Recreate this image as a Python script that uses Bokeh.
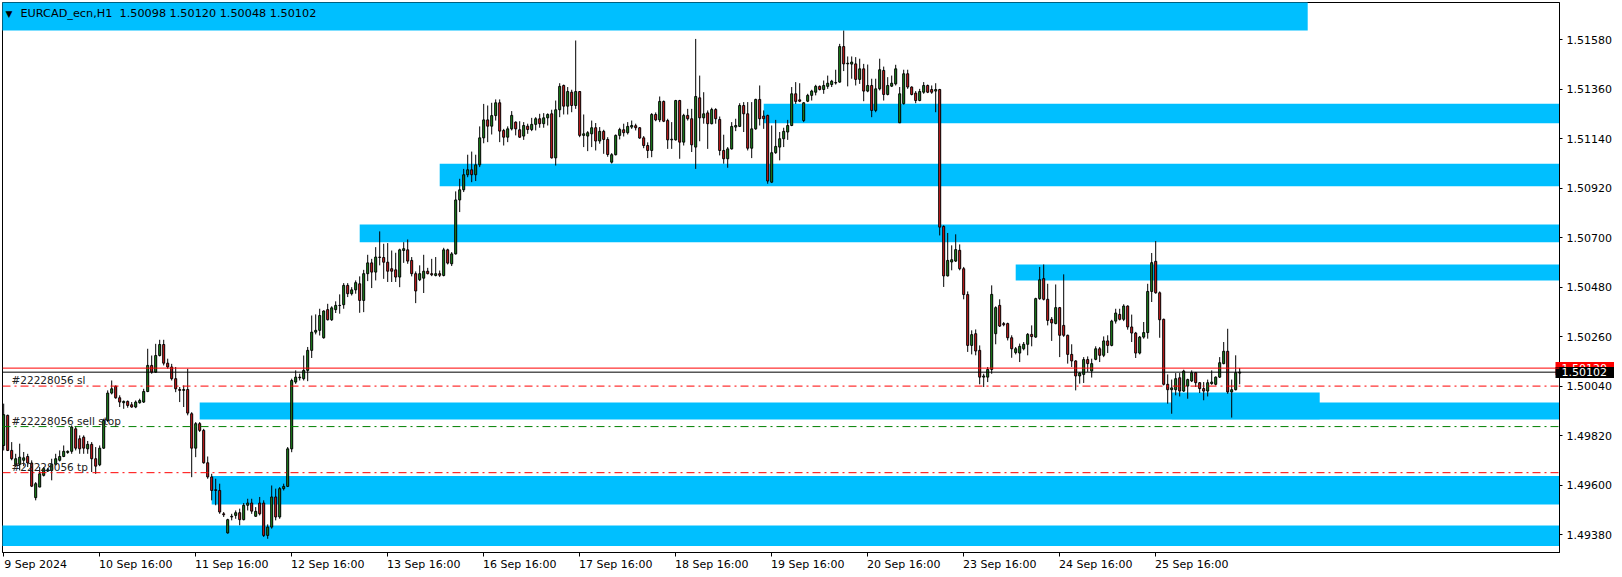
from bokeh.plotting import figure
from bokeh.models import ColumnDataSource, Span, Label, FixedTicker, PrintfTickFormatter, Range1d, LinearAxis
from bokeh.embed import file_html
from bokeh.resources import INLINE

symbol = "EURCAD_ecn,H1"

opens = [
1.49776, 1.49910, 1.49754, 1.49690, 1.49692, 1.49710, 1.49727, 1.49698, 1.49544, 1.49591,
1.49643, 1.49662, 1.49665, 1.49692, 1.49710, 1.49727, 1.49745, 1.49750, 1.49850, 1.49806,
1.49813, 1.49761, 1.49781, 1.49717, 1.49690, 1.49764, 1.49887, 1.50009, 1.50039, 1.49988,
1.49966, 1.49972, 1.49957, 1.49947, 1.49966, 1.49969, 1.50016, 1.50132, 1.50102, 1.50176,
1.50225, 1.50142, 1.50125, 1.50073, 1.50025, 1.50021, 1.50025, 1.49917, 1.49764, 1.49873,
1.49843, 1.49699, 1.49636, 1.49579, 1.49576, 1.49472, 1.49387, 1.49458, 1.49465, 1.49477,
1.49446, 1.49510, 1.49520, 1.49461, 1.49520, 1.49520, 1.49376, 1.49413, 1.49547, 1.49458,
1.49584, 1.49594, 1.49761, 1.50058, 1.50080, 1.50073, 1.50110, 1.50199, 1.50280, 1.50288,
1.50255, 1.50380, 1.50335, 1.50380, 1.50398, 1.50402, 1.50488, 1.50451, 1.50468, 1.50495,
1.50421, 1.50540, 1.50588, 1.50547, 1.50614, 1.50612, 1.50591, 1.50562, 1.50557, 1.50525,
1.50643, 1.50646, 1.50599, 1.50540, 1.50513, 1.50520, 1.50551, 1.50540, 1.50532, 1.50540,
1.50532, 1.50646, 1.50584, 1.50628, 1.50868, 1.50913, 1.50980, 1.51002, 1.50980, 1.51024,
1.51144, 1.51224, 1.51196, 1.51243, 1.51300, 1.51177, 1.51147, 1.51184, 1.51214, 1.51180,
1.51152, 1.51196, 1.51181, 1.51204, 1.51229, 1.51207, 1.51233, 1.51251, 1.51055, 1.51269,
1.51377, 1.51285, 1.51347, 1.51288, 1.51350, 1.51155, 1.51152, 1.51162, 1.51189, 1.51130,
1.51173, 1.51137, 1.51036, 1.51069, 1.51155, 1.51180, 1.51167, 1.51192, 1.51198, 1.51189,
1.51144, 1.51110, 1.51088, 1.51248, 1.51224, 1.51306, 1.51221, 1.51135, 1.51135, 1.51310,
1.51125, 1.51244, 1.51229, 1.51103, 1.51322, 1.51233, 1.51255, 1.51207, 1.51270, 1.51226,
1.51088, 1.51051, 1.51095, 1.51192, 1.51195, 1.51288, 1.51251, 1.51098, 1.51184, 1.51315,
1.51241, 1.51244, 1.50947, 1.51078, 1.51103, 1.51140, 1.51170, 1.51199, 1.51340, 1.51313,
1.51221, 1.51307, 1.51333, 1.51347, 1.51373, 1.51359, 1.51373, 1.51381, 1.51390, 1.51392,
1.51550, 1.51473, 1.51472, 1.51473, 1.51404, 1.51451, 1.51352, 1.51377, 1.51266, 1.51362,
1.51444, 1.51337, 1.51374, 1.51384, 1.51211, 1.51296, 1.51429, 1.51370, 1.51343, 1.51310,
1.51347, 1.51377, 1.51359, 1.51352, 1.51359, 1.50750, 1.50530, 1.50592, 1.50596, 1.50644,
1.50562, 1.50447, 1.50221, 1.50273, 1.50199, 1.50080, 1.50080, 1.50114, 1.50273, 1.50399,
1.50318, 1.50318, 1.50255, 1.50189, 1.50187, 1.50206, 1.50226, 1.50270, 1.50258, 1.50429,
1.50518, 1.50426, 1.50337, 1.50318, 1.50389, 1.50310, 1.50266, 1.50181, 1.50152, 1.50085,
1.50092, 1.50158, 1.50107, 1.50159, 1.50206, 1.50177, 1.50241, 1.50221, 1.50329, 1.50359,
1.50337, 1.50396, 1.50303, 1.50276, 1.50187, 1.50258, 1.50278, 1.50461, 1.50595, 1.50455,
1.50337, 1.50048, 1.50024, 1.50024, 1.50077, 1.50018, 1.50040, 1.50063, 1.50100, 1.50055,
1.50029, 1.50018, 1.50051, 1.50048, 1.50080, 1.50140, 1.50195, 1.50014, 1.50024, 1.50098,
]

highs = [
1.49962, 1.49913, 1.49791, 1.49739, 1.49784, 1.49747, 1.49739, 1.49710, 1.49613, 1.49680,
1.49680, 1.49676, 1.49717, 1.49739, 1.49754, 1.49776, 1.49754, 1.49865, 1.49861, 1.49821,
1.49821, 1.49796, 1.49791, 1.49769, 1.49776, 1.49895, 1.50021, 1.50065, 1.50043, 1.49999,
1.49976, 1.49976, 1.49969, 1.49976, 1.49984, 1.50028, 1.50206, 1.50176, 1.50228, 1.50246,
1.50246, 1.50162, 1.50139, 1.50125, 1.50036, 1.50043, 1.50117, 1.49924, 1.49880, 1.49880,
1.49850, 1.49727, 1.49650, 1.49628, 1.49606, 1.49480, 1.49450, 1.49472, 1.49487, 1.49495,
1.49520, 1.49539, 1.49539, 1.49502, 1.49547, 1.49532, 1.49425, 1.49598, 1.49584, 1.49591,
1.49606, 1.49769, 1.50073, 1.50110, 1.50095, 1.50176, 1.50214, 1.50354, 1.50359, 1.50384,
1.50377, 1.50406, 1.50395, 1.50417, 1.50448, 1.50498, 1.50498, 1.50480, 1.50510, 1.50528,
1.50557, 1.50624, 1.50606, 1.50658, 1.50728, 1.50673, 1.50676, 1.50643, 1.50633, 1.50651,
1.50680, 1.50692, 1.50614, 1.50550, 1.50577, 1.50624, 1.50566, 1.50606, 1.50614, 1.50554,
1.50655, 1.50651, 1.50636, 1.50906, 1.50962, 1.51006, 1.51069, 1.51083, 1.51069, 1.51195,
1.51295, 1.51288, 1.51300, 1.51315, 1.51315, 1.51184, 1.51195, 1.51263, 1.51217, 1.51218,
1.51214, 1.51207, 1.51233, 1.51236, 1.51251, 1.51254, 1.51253, 1.51269, 1.51310, 1.51387,
1.51381, 1.51370, 1.51358, 1.51577, 1.51352, 1.51248, 1.51174, 1.51221, 1.51210, 1.51192,
1.51180, 1.51147, 1.51076, 1.51159, 1.51189, 1.51207, 1.51214, 1.51221, 1.51207, 1.51192,
1.51152, 1.51124, 1.51254, 1.51257, 1.51328, 1.51310, 1.51229, 1.51214, 1.51313, 1.51313,
1.51251, 1.51273, 1.51273, 1.51584, 1.51421, 1.51347, 1.51266, 1.51278, 1.51276, 1.51239,
1.51158, 1.51103, 1.51214, 1.51229, 1.51298, 1.51303, 1.51303, 1.51303, 1.51318, 1.51377,
1.51266, 1.51247, 1.51199, 1.51224, 1.51170, 1.51189, 1.51224, 1.51370, 1.51392, 1.51387,
1.51303, 1.51340, 1.51358, 1.51380, 1.51377, 1.51399, 1.51421, 1.51402, 1.51447, 1.51562,
1.51621, 1.51506, 1.51506, 1.51503, 1.51496, 1.51473, 1.51470, 1.51407, 1.51407, 1.51496,
1.51461, 1.51414, 1.51421, 1.51469, 1.51370, 1.51447, 1.51447, 1.51373, 1.51352, 1.51362,
1.51392, 1.51381, 1.51377, 1.51387, 1.51362, 1.50755, 1.50721, 1.50666, 1.50715, 1.50670,
1.50570, 1.50461, 1.50288, 1.50292, 1.50221, 1.50095, 1.50125, 1.50488, 1.50395, 1.50426,
1.50325, 1.50322, 1.50266, 1.50214, 1.50229, 1.50236, 1.50276, 1.50310, 1.50433, 1.50570,
1.50581, 1.50495, 1.50347, 1.50492, 1.50392, 1.50537, 1.50269, 1.50226, 1.50155, 1.50103,
1.50169, 1.50172, 1.50162, 1.50217, 1.50214, 1.50261, 1.50266, 1.50335, 1.50384, 1.50384,
1.50404, 1.50399, 1.50358, 1.50281, 1.50263, 1.50325, 1.50495, 1.50632, 1.50685, 1.50461,
1.50340, 1.50092, 1.50069, 1.50098, 1.50098, 1.50113, 1.50073, 1.50110, 1.50103, 1.50058,
1.50058, 1.50069, 1.50110, 1.50083, 1.50169, 1.50236, 1.50295, 1.50069, 1.50177, 1.50120,
]

lows = [
1.49754, 1.49751, 1.49710, 1.49680, 1.49665, 1.49684, 1.49680, 1.49591, 1.49532, 1.49591,
1.49638, 1.49658, 1.49621, 1.49687, 1.49705, 1.49724, 1.49739, 1.49739, 1.49754, 1.49739,
1.49739, 1.49739, 1.49658, 1.49650, 1.49684, 1.49761, 1.49880, 1.50003, 1.49984, 1.49947,
1.49939, 1.49944, 1.49944, 1.49942, 1.49962, 1.49965, 1.50013, 1.50095, 1.50099, 1.50172,
1.50132, 1.50117, 1.50065, 1.50013, 1.49969, 1.49947, 1.49910, 1.49635, 1.49724, 1.49836,
1.49695, 1.49628, 1.49532, 1.49510, 1.49472, 1.49458, 1.49384, 1.49443, 1.49450, 1.49421,
1.49443, 1.49487, 1.49472, 1.49458, 1.49465, 1.49369, 1.49361, 1.49406, 1.49443, 1.49450,
1.49576, 1.49591, 1.49746, 1.50050, 1.50065, 1.50065, 1.50062, 1.50165, 1.50270, 1.50265,
1.50251, 1.50332, 1.50330, 1.50365, 1.50362, 1.50384, 1.50436, 1.50443, 1.50451, 1.50366,
1.50369, 1.50507, 1.50476, 1.50510, 1.50577, 1.50517, 1.50503, 1.50503, 1.50503, 1.50480,
1.50588, 1.50584, 1.50528, 1.50409, 1.50507, 1.50454, 1.50537, 1.50529, 1.50528, 1.50525,
1.50528, 1.50581, 1.50574, 1.50625, 1.50814, 1.50903, 1.50969, 1.50947, 1.50952, 1.51014,
1.51120, 1.51125, 1.51159, 1.51221, 1.51125, 1.51110, 1.51125, 1.51177, 1.51155, 1.51144,
1.51135, 1.51162, 1.51174, 1.51177, 1.51189, 1.51189, 1.51199, 1.51052, 1.51021, 1.51236,
1.51248, 1.51248, 1.51258, 1.51273, 1.51147, 1.51103, 1.51085, 1.51103, 1.51088, 1.51118,
1.51073, 1.51060, 1.51030, 1.51066, 1.51137, 1.51150, 1.51159, 1.51184, 1.51177, 1.51140,
1.51098, 1.51054, 1.51058, 1.51218, 1.51214, 1.51214, 1.51095, 1.51095, 1.51132, 1.51051,
1.51110, 1.51221, 1.51081, 1.51006, 1.51129, 1.51207, 1.51095, 1.51204, 1.51207, 1.51066,
1.51029, 1.51011, 1.51092, 1.51174, 1.51192, 1.51170, 1.51088, 1.51054, 1.51180, 1.51199,
1.51184, 1.50940, 1.50943, 1.51073, 1.51044, 1.51103, 1.51135, 1.51196, 1.51295, 1.51303,
1.51214, 1.51303, 1.51310, 1.51333, 1.51355, 1.51340, 1.51362, 1.51370, 1.51381, 1.51389,
1.51441, 1.51373, 1.51407, 1.51377, 1.51384, 1.51307, 1.51347, 1.51236, 1.51258, 1.51355,
1.51310, 1.51333, 1.51370, 1.51377, 1.51211, 1.51292, 1.51362, 1.51333, 1.51298, 1.51307,
1.51340, 1.51343, 1.51340, 1.51258, 1.50710, 1.50481, 1.50528, 1.50555, 1.50592, 1.50555,
1.50426, 1.50192, 1.50181, 1.50177, 1.50048, 1.50036, 1.50058, 1.50095, 1.50226, 1.50303,
1.50306, 1.50243, 1.50166, 1.50181, 1.50147, 1.50199, 1.50177, 1.50217, 1.50255, 1.50424,
1.50421, 1.50310, 1.50241, 1.50315, 1.50169, 1.50259, 1.50140, 1.50125, 1.50021, 1.50051,
1.50054, 1.50103, 1.50078, 1.50155, 1.50147, 1.50169, 1.50187, 1.50217, 1.50318, 1.50332,
1.50329, 1.50291, 1.50236, 1.50165, 1.50181, 1.50251, 1.50251, 1.50414, 1.50451, 1.50255,
1.50043, 1.49962, 1.49917, 1.49999, 1.49994, 1.50014, 1.49984, 1.50058, 1.50036, 1.50009,
1.49977, 1.49994, 1.50046, 1.50043, 1.50076, 1.50137, 1.50006, 1.49900, 1.50021, 1.50048,
]

closes = [
1.49913, 1.49754, 1.49717, 1.49717, 1.49724, 1.49721, 1.49698, 1.49595, 1.49606, 1.49650,
1.49673, 1.49668, 1.49692, 1.49717, 1.49727, 1.49750, 1.49750, 1.49858, 1.49764, 1.49761,
1.49764, 1.49781, 1.49717, 1.49684, 1.49764, 1.49887, 1.50009, 1.50028, 1.49988, 1.49969,
1.49972, 1.49954, 1.49947, 1.49969, 1.49976, 1.50016, 1.50132, 1.50102, 1.50176, 1.50225,
1.50142, 1.50125, 1.50073, 1.50028, 1.50021, 1.50025, 1.49920, 1.49764, 1.49873, 1.49843,
1.49699, 1.49636, 1.49576, 1.49576, 1.49480, 1.49468, 1.49446, 1.49461, 1.49477, 1.49446,
1.49510, 1.49520, 1.49484, 1.49483, 1.49472, 1.49376, 1.49413, 1.49547, 1.49458, 1.49584,
1.49594, 1.49761, 1.50065, 1.50080, 1.50077, 1.50110, 1.50199, 1.50280, 1.50288, 1.50354,
1.50374, 1.50335, 1.50388, 1.50399, 1.50399, 1.50488, 1.50451, 1.50468, 1.50500, 1.50421,
1.50540, 1.50588, 1.50547, 1.50614, 1.50612, 1.50591, 1.50551, 1.50551, 1.50525, 1.50646,
1.50651, 1.50596, 1.50540, 1.50463, 1.50540, 1.50551, 1.50540, 1.50535, 1.50540, 1.50533,
1.50646, 1.50587, 1.50628, 1.50868, 1.50913, 1.50980, 1.51002, 1.50980, 1.51024, 1.51144,
1.51224, 1.51196, 1.51243, 1.51300, 1.51174, 1.51147, 1.51184, 1.51244, 1.51184, 1.51147,
1.51199, 1.51181, 1.51204, 1.51229, 1.51207, 1.51233, 1.51248, 1.51055, 1.51269, 1.51373,
1.51285, 1.51350, 1.51288, 1.51350, 1.51155, 1.51162, 1.51167, 1.51189, 1.51130, 1.51173,
1.51137, 1.51070, 1.51069, 1.51155, 1.51181, 1.51167, 1.51195, 1.51199, 1.51189, 1.51143,
1.51110, 1.51088, 1.51248, 1.51224, 1.51306, 1.51218, 1.51135, 1.51138, 1.51310, 1.51125,
1.51244, 1.51229, 1.51113, 1.51328, 1.51233, 1.51251, 1.51207, 1.51270, 1.51229, 1.51088,
1.51051, 1.51095, 1.51195, 1.51199, 1.51288, 1.51251, 1.51098, 1.51184, 1.51315, 1.51229,
1.51229, 1.50952, 1.51078, 1.51106, 1.51140, 1.51173, 1.51199, 1.51340, 1.51306, 1.51307,
1.51300, 1.51333, 1.51352, 1.51373, 1.51359, 1.51377, 1.51387, 1.51396, 1.51388, 1.51550,
1.51473, 1.51476, 1.51481, 1.51404, 1.51451, 1.51352, 1.51377, 1.51266, 1.51362, 1.51447,
1.51337, 1.51377, 1.51387, 1.51451, 1.51340, 1.51429, 1.51370, 1.51337, 1.51310, 1.51350,
1.51377, 1.51347, 1.51347, 1.51359, 1.50747, 1.50530, 1.50599, 1.50602, 1.50647, 1.50562,
1.50447, 1.50221, 1.50269, 1.50196, 1.50080, 1.50085, 1.50114, 1.50448, 1.50389, 1.50307,
1.50313, 1.50255, 1.50206, 1.50206, 1.50217, 1.50226, 1.50270, 1.50260, 1.50429, 1.50513,
1.50426, 1.50332, 1.50321, 1.50389, 1.50266, 1.50266, 1.50181, 1.50152, 1.50085, 1.50098,
1.50158, 1.50140, 1.50140, 1.50206, 1.50177, 1.50241, 1.50221, 1.50329, 1.50365, 1.50337,
1.50396, 1.50303, 1.50276, 1.50187, 1.50258, 1.50278, 1.50461, 1.50589, 1.50455, 1.50335,
1.50048, 1.50024, 1.50032, 1.50073, 1.50018, 1.50107, 1.50069, 1.50100, 1.50055, 1.50029,
1.50018, 1.50055, 1.50058, 1.50080, 1.50144, 1.50195, 1.50014, 1.50024, 1.50100, 1.50102,
]

# x axis: hourly bars, one label every 24 bars
tick_bars = [0, 24, 48, 72, 96, 120, 144, 168, 192, 216, 240, 264, 288]
tick_labels = ["9 Sep 2024", "10 Sep 16:00", "11 Sep 16:00", "12 Sep 16:00", "13 Sep 16:00",
               "16 Sep 16:00", "17 Sep 16:00", "18 Sep 16:00", "19 Sep 16:00", "20 Sep 16:00",
               "23 Sep 16:00", "24 Sep 16:00", "25 Sep 16:00"]
price_ticks = [1.49380, 1.49600, 1.49820, 1.50040, 1.50260, 1.50480,
               1.50700, 1.50920, 1.51140, 1.51360, 1.51580]

# supply / demand zones (bar index start/end, price bottom/top)
zone_start = [-5, 190, 109, 89, 253, 292, 49, 52, -5]
zone_end = [326, 500, 500, 500, 500, 329, 500, 500, 500]
zone_bottom = [1.51622, 1.51209, 1.50929, 1.50680, 1.50510, 1.49893, 1.49892, 1.49514, 1.49329]
zone_top = [1.51800, 1.51296, 1.51029, 1.50759, 1.50581, 1.50012, 1.49967, 1.49640, 1.49420]

ask_price = 1.50120
bid_price = 1.50102
order_id = "#22228056"
order_names = ["sl", "sell stop", "tp"]
order_prices = [1.50040, 1.49860, 1.49655]
order_colors = ["#ff0000", "#008000", "#ff0000"]

FONT = "DejaVu Sans"
UP = "#1e8c1e"
DOWN = "#d81e1e"
ZONE = "#00bfff"

n = len(opens)
x = list(range(n))
src = ColumnDataSource(dict(
    x=x,
    high=highs,
    low=lows,
    top=[max(o, c) for o, c in zip(opens, closes)],
    bottom=[min(o, c) for o, c in zip(opens, closes)],
    color=[UP if c >= o else DOWN for o, c in zip(opens, closes)],
))

y_lo, y_hi = 1.49300, 1.51746
x_lo, x_hi = -0.3, 388.95

p = figure(frame_width=1557, frame_height=550,
           x_range=Range1d(x_lo, x_hi), y_range=Range1d(y_lo, y_hi),
           y_axis_location="right",
           output_backend="svg", toolbar_location=None,
           min_border_left=2, min_border_top=2, min_border_right=55, min_border_bottom=22,
           background_fill_color="white", border_fill_color="white",
           outline_line_color="black", outline_line_width=1)
p.xgrid.visible = False
p.ygrid.visible = False

# zones
p.quad(left=zone_start, right=zone_end, bottom=zone_bottom, top=zone_top,
       fill_color=ZONE, line_color=None)

# candles
p.segment(x0="x", y0="low", x1="x", y1="high", source=src, line_color="black", line_width=1)
p.vbar(x="x", top="top", bottom="bottom", width=0.5, source=src,
       fill_color="color", line_color="black", line_width=1)

# price lines
p.add_layout(Span(location=ask_price, dimension="width", line_color="#ff0000", line_width=1))
p.add_layout(Span(location=bid_price, dimension="width", line_color="black", line_width=1))
for name, price, col in zip(order_names, order_prices, order_colors):
    p.add_layout(Span(location=price, dimension="width", line_color=col, line_width=1,
                      line_dash="8 4 2 4"))
    p.add_layout(Label(x=x_lo, y=price, x_offset=9, y_offset=0, text=f"{order_id} {name}",
                       text_baseline="bottom", text_font=FONT, text_font_size="10.5px",
                       text_color="#222222"))

# title
last = n - 1
title_txt = (f"{symbol}\u00a0 {opens[last]:.5f} {highs[last]:.5f} "
             f"{lows[last]:.5f} {closes[last]:.5f}")
p.add_layout(Label(x=x_lo, y=y_hi, x_offset=3, y_offset=-6, text="\u25bc",
                   text_baseline="top", text_font=FONT, text_font_size="9px", text_color="black"))
p.add_layout(Label(x=x_lo, y=y_hi, x_offset=18, y_offset=-4, text=title_txt,
                   text_baseline="top", text_font=FONT, text_font_size="11.25px", text_color="black"))

# main price axis
ya = p.yaxis[0]
ya.ticker = FixedTicker(ticks=price_ticks)
ya.formatter = PrintfTickFormatter(format="%.5f")
ya.major_tick_out = 3
ya.major_tick_in = 0
ya.minor_tick_line_color = None
ya.axis_line_color = "black"
ya.major_label_standoff = 4
ya.major_label_text_font = FONT
ya.major_label_text_font_size = "11px"
ya.major_label_text_color = "black"

# ask / bid price boxes: one extra right axis each, stacked just outside the price axis;
# a thick inward tick forms the box and the label is pulled back over it
for price, col, thick in [(ask_price, "#ff0000", 13), (bid_price, "black", 11)]:
    box_axis = LinearAxis(ticker=FixedTicker(ticks=[price]),
                          formatter=PrintfTickFormatter(format="%.5f\u00a0"),
                          axis_line_color=None, minor_tick_line_color=None,
                          major_tick_line_color=col, major_tick_line_width=thick,
                          major_tick_in=59, major_tick_out=0,
                          major_label_standoff=-53, major_label_text_color="white",
                          major_label_text_font=FONT, major_label_text_font_size="11px")
    p.add_layout(box_axis, "right")

# tick marks at the bar positions
xa = p.xaxis[0]
xa.ticker = FixedTicker(ticks=tick_bars)
xa.major_tick_out = 4
xa.major_tick_in = 0
xa.minor_tick_line_color = None
xa.axis_line_color = "black"
xa.major_label_standoff = 0
xa.major_label_text_font_size = "0px"
xa.major_label_text_color = None

# labels start at the tick (left aligned), so centre them half a label to the right
label_pos = [b + round(len(t) * 6.1 / 8) for b, t in zip(tick_bars, tick_labels)]
xl = LinearAxis(ticker=FixedTicker(ticks=label_pos),
                major_label_overrides={pp: t for pp, t in zip(label_pos, tick_labels)},
                major_tick_out=0, major_tick_in=0, minor_tick_line_color=None,
                major_tick_line_color=None, axis_line_color=None,
                major_label_standoff=1, major_label_text_font=FONT,
                major_label_text_font_size="11px", major_label_text_color="black")
p.add_layout(xl, "below")

open("out.html", "w").write(file_html(p, INLINE))
